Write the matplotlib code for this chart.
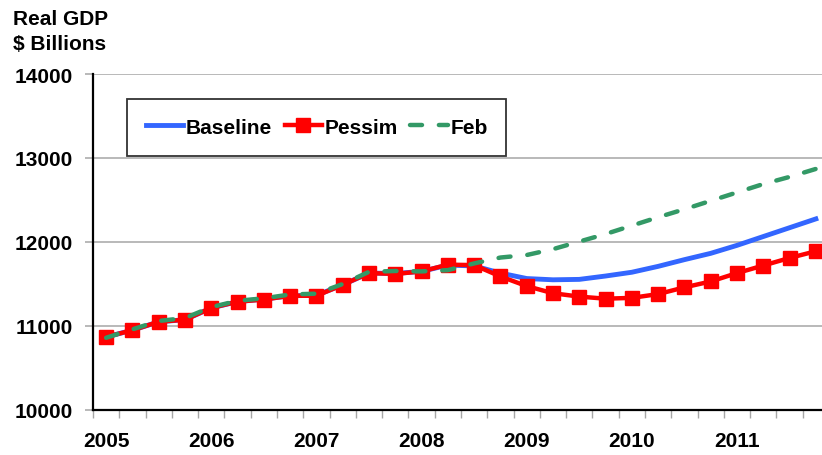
"""Real GDP scenarios: Baseline vs Pessimistic vs February forecast, quarterly 2005-2011."""

import matplotlib
matplotlib.use("Agg")
import matplotlib.pyplot as plt
import numpy as np

# quarterly, 2005Q1 .. 2011Q4 ($ billions)
years = ["2005", "2006", "2007", "2008", "2009", "2010", "2011"]
baseline = [10870, 10950, 11050, 11075, 11215, 11290, 11320, 11360, 11365, 11490,
            11630, 11625, 11650, 11725, 11715, 11630, 11565, 11550, 11555, 11595,
            11640, 11710, 11790, 11865, 11960, 12065, 12170, 12275]
pessim = [10870, 10950, 11050, 11075, 11215, 11290, 11315, 11360, 11360, 11490,
          11630, 11620, 11650, 11730, 11725, 11590, 11475, 11390, 11350, 11325,
          11335, 11380, 11460, 11530, 11630, 11720, 11810, 11890]
feb = [10860, 10960, 11060, 11095, 11225, 11300, 11330, 11375, 11385, 11500,
       11645, 11655, 11650, 11665, 11745, 11815, 11845, 11915, 12005, 12095,
       12195, 12295, 12390, 12490, 12590, 12690, 12775, 12870]

BLUE = "#3366FF"
RED = "#FF0000"
GREEN = "#339966"
FONT = "Liberation Sans"


def main() -> None:
    plt.rcParams["font.family"] = [FONT, "DejaVu Sans"]
    plt.rcParams["font.weight"] = "bold"

    fig = plt.figure(figsize=(8.22, 4.56), dpi=100)
    ax = fig.add_axes([93 / 822, 45 / 456, 736 / 822, 336 / 456])

    q = np.arange(len(pessim))
    ax.plot(q, baseline, color=BLUE, lw=3.5, label="Baseline", zorder=3)
    ax.plot(q, pessim, color=RED, lw=3.2, marker="s", ms=9.5, mec=RED,
            label="Pessim", zorder=4)
    ax.plot(q, feb, color=GREEN, lw=3.2, ls=(0, (2.7, 3.8)),
            dash_capstyle="round", label="Feb", zorder=5)

    ax.set_xlim(-0.5, len(q) - 0.5)
    ax.set_ylim(10000, 14000)
    ax.set_yticks([10000, 11000, 12000, 13000, 14000])
    ax.yaxis.grid(True, color="#A6A6A6", lw=1.1)
    ax.set_axisbelow(True)

    ax.set_xticks(np.arange(len(years)) * 4)
    ax.set_xticklabels(years)
    ax.set_xticks(np.arange(len(q) + 1) - 0.5, minor=True)
    ax.tick_params(axis="x", which="major", length=0, pad=15, labelsize=15)
    ax.tick_params(axis="x", which="minor", length=6, color="#A6A6A6", width=1)
    ax.tick_params(axis="y", length=6, color="#A6A6A6", width=1.1, pad=8.5,
                   labelsize=15)

    for side in ("top", "right"):
        ax.spines[side].set_visible(False)
    for side in ("left", "bottom"):
        ax.spines[side].set_linewidth(1.6)
        ax.spines[side].set_color("black")

    leg = ax.legend(loc="upper left", bbox_to_anchor=(34 / 736, 311 / 336),
                    borderaxespad=0, ncol=3, frameon=True, fancybox=False,
                    handlelength=1.8, handletextpad=0.12, columnspacing=0.6,
                    borderpad=0.9,
                    prop={"family": FONT, "weight": "bold", "size": 15})
    leg.get_frame().set_edgecolor("black")
    leg.get_frame().set_linewidth(1.3)

    fig.text(13 / 822, 1 - 10 / 456, "Real GDP\n\\$ Billions", ha="left", va="top",
             fontsize=15, fontweight="bold", linespacing=1.4)

    fig.savefig("out.png", dpi=100)
    plt.close(fig)


if __name__ == "__main__":
    main()
